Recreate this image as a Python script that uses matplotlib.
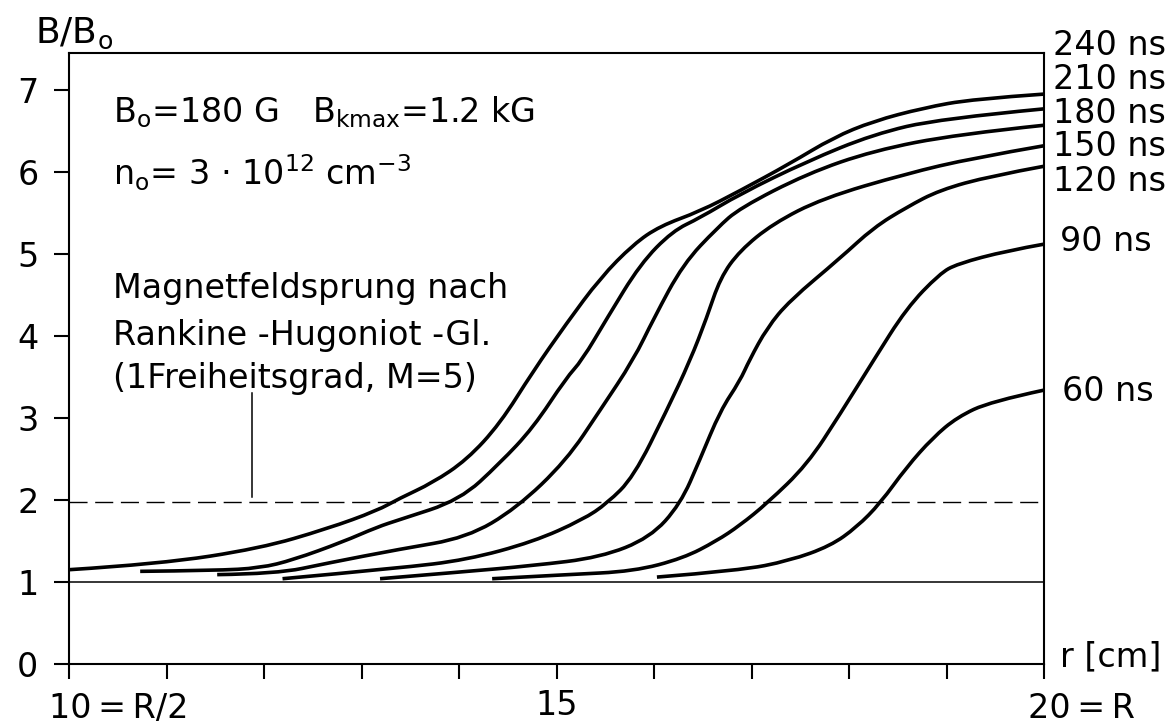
import matplotlib.pyplot as plt
from matplotlib.path import Path
from matplotlib.patches import PathPatch

plt.rcParams['font.family'] = ['DejaVu Sans']
plt.rcParams['mathtext.default'] = 'regular'

# Magnetfeldprofile B/B0 ueber r [cm]
r_240 = [10.0, 10.93, 11.96, 12.65, 13.16, 13.39, 13.73, 14.08, 14.42, 14.76, 15.1, 15.45,
         15.79, 16.06, 16.47, 16.88, 17.39, 17.84, 18.25, 18.76, 19.27, 20.0]
b_240 = [1.15, 1.22, 1.41, 1.65, 1.87, 2.02, 2.21, 2.49, 2.93, 3.57, 4.15, 4.71,
         5.12, 5.34, 5.52, 5.77, 6.10, 6.42, 6.62, 6.78, 6.89, 6.95]

r_210 = [10.73, 11.5, 11.96, 12.3, 12.81, 13.16, 13.39, 14.01, 14.42, 14.76, 15.1, 15.26,
         15.52, 15.86, 16.19, 16.47, 16.88, 17.57, 18.25, 18.93, 20.0]
b_210 = [1.13, 1.14, 1.17, 1.27, 1.49, 1.67, 1.76, 2.0, 2.45, 2.88, 3.49, 3.70,
         4.22, 4.88, 5.28, 5.44, 5.73, 6.13, 6.46, 6.65, 6.77]

r_180 = [11.52, 12.13, 12.65, 13.39, 14.08, 14.59, 15.1, 15.45, 15.79, 16.0, 16.3, 16.65,
         16.88, 17.57, 18.25, 19.11, 20.0]
b_180 = [1.09, 1.10, 1.23, 1.40, 1.54, 1.90, 2.48, 3.10, 3.71, 4.22, 4.88, 5.32,
         5.56, 5.98, 6.26, 6.46, 6.57]

r_150 = [12.19, 13.39, 14.08, 14.76, 15.27, 15.52, 15.79, 16.13, 16.37, 16.54, 16.68, 16.88,
         17.22, 17.73, 18.59, 19.27, 20.0]
b_150 = [1.04, 1.17, 1.27, 1.49, 1.76, 1.96, 2.28, 3.09, 3.70, 4.22, 4.71, 5.04,
         5.37, 5.68, 5.98, 6.17, 6.32]

r_120 = [13.19, 14.0, 14.76, 15.45, 15.96, 16.27, 16.47, 16.68, 16.88, 16.98, 17.16, 17.39,
         17.91, 18.25, 18.59, 18.93, 19.45, 20.0]
b_120 = [1.04, 1.12, 1.20, 1.30, 1.54, 1.95, 2.49, 3.09, 3.45, 3.71, 4.10, 4.43,
         4.95, 5.32, 5.57, 5.78, 5.95, 6.07]

r_90 = [14.34, 15.11, 15.79, 16.3, 16.64, 16.88, 17.16, 17.57, 17.91, 18.25, 18.59, 18.93,
        19.11, 19.62, 20.0]
b_90 = [1.04, 1.09, 1.13, 1.29, 1.50, 1.69, 1.96, 2.43, 3.05, 3.70, 4.34, 4.76,
        4.88, 5.04, 5.12]

r_60 = [16.03, 16.88, 17.39, 17.81, 18.08, 18.32, 18.59, 18.86, 19.11, 19.45, 20.0]
b_60 = [1.06, 1.14, 1.26, 1.44, 1.67, 1.96, 2.40, 2.76, 3.01, 3.20, 3.34]

zeiten = ['240 ns', '210 ns', '180 ns', '150 ns', '120 ns', '90 ns', '60 ns']
kurven = [(r_240, b_240), (r_210, b_210), (r_180, b_180), (r_150, b_150),
          (r_120, b_120), (r_90, b_90), (r_60, b_60)]

b_rh = 1.97  # Magnetfeldsprung nach Rankine-Hugoniot


def glatte_kurve(r, b):
    # quadratische Bezier-Segmente durch die Mittelpunkte -> glatter Strich
    pts = list(zip(r, b))
    verts = [pts[0]]
    codes = [Path.MOVETO]
    for i in range(1, len(pts) - 1):
        mid = ((pts[i][0] + pts[i + 1][0]) / 2, (pts[i][1] + pts[i + 1][1]) / 2)
        if i == len(pts) - 2:
            mid = pts[-1]
        verts += [pts[i], mid]
        codes += [Path.CURVE3, Path.CURVE3]
    return Path(verts, codes)


fig = plt.figure(figsize=(11.73, 7.27), dpi=100)
ax = fig.add_axes([69 / 1173, 1 - 664 / 727, 975 / 1173, 611 / 727])
ax.set_xlim(10, 20)
ax.set_ylim(0, 611 / 82)

for sp in ax.spines.values():
    sp.set_linewidth(1.5)

ax.set_yticks(range(8))
ax.set_xticks(range(10, 21))
ax.set_xticklabels([''] * 5 + ['15'] + [''] * 5)
ax.tick_params(axis='both', direction='out', length=11, width=1.5, labelsize=24)
ax.tick_params(axis='y', pad=11)
ax.tick_params(axis='x', pad=7)

# Bezugslinien
ax.axhline(1.0, color='black', lw=1.1)
ax.axhline(b_rh, color='black', lw=1.0, dashes=(13, 5.5))
ax.plot([11.88, 11.88], [b_rh + 0.07, 3.30], color='black', lw=1.1)

for (r, b) in kurven:
    ax.add_patch(PathPatch(glatte_kurve(r, b), fill=False, edgecolor='black', lw=2.6,
                           joinstyle='round', capstyle='butt', clip_on=False))

# Beschriftung rechts
label_y = [7.54, 7.13, 6.71, 6.31, 5.88, 5.15, 3.32]
label_x = [20.09, 20.09, 20.09, 20.09, 20.09, 20.16, 20.18]
for txt, x, y in zip(zeiten, label_x, label_y):
    ax.text(x, y, txt, fontsize=24, va='center', ha='left', clip_on=False)

ax.set_ylabel('B/B$_o$', fontsize=26, rotation=0, ha='left', va='baseline')
ax.yaxis.set_label_coords(-0.035, 1.0164)
ax.set_xlabel('r [cm]', fontsize=24, ha='left', va='center')
ax.xaxis.set_label_coords(1.0164, 0.0115)

ax.text(9.79, -0.66, '10\u2009=\u2009R/2', fontsize=24, ha='left', va='baseline', clip_on=False)
ax.text(19.84, -0.66, '20\u2009=\u2009R', fontsize=24, ha='left', va='baseline', clip_on=False)

# Parameter
ax.text(10.45, 6.61, 'B$_o$=180 G', fontsize=24, va='baseline')
ax.text(12.49, 6.61, 'B$_{kmax}$=1.2 kG', fontsize=24, va='baseline')
ax.text(10.45, 5.84, 'n$_o$= 3 \u00b7 10$^{12}$ cm$^{-3}$', fontsize=24, va='baseline')

ax.text(10.45, 4.46, 'Magnetfeldsprung nach', fontsize=24, va='baseline')
ax.text(10.45, 3.89, 'Rankine -Hugoniot -Gl.', fontsize=24, va='baseline')
ax.text(10.45, 3.36, '(1Freiheitsgrad, M=5)', fontsize=24, va='baseline')

fig.savefig('out.png', dpi=100)
